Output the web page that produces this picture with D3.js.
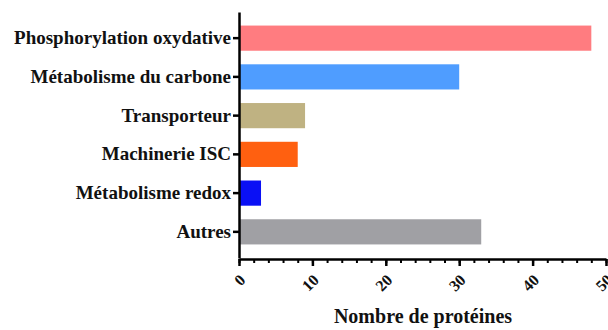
<!DOCTYPE html>
<html>
<head>
<meta charset="utf-8">
<script src="https://cdn.jsdelivr.net/npm/d3@7"></script>
<style>
  body { margin: 0; background: #fff; }
</style>
</head>
<body>
<div id="chart"></div>
<script>
// categories and values
const categories = ["Phosphorylation oxydative", "Métabolisme du carbone", "Transporteur",
    "Machinerie ISC", "Métabolisme redox", "Autres"];
const counts = [48, 30, 9, 8, 3, 33];
const barColors = ["#ff7c80", "#4f9dff", "#bfb282", "#ff6010", "#0a10f5", "#a0a0a4"];
const xTicks = [0, 10, 20, 30, 40, 50];
const xTitle = "Nombre de protéines";

const W = 608, H = 330;
const margin = { top: 12, right: 2, bottom: 72, left: 239 };
const serif = "'Liberation Serif', 'Times New Roman', serif";

const svg = d3.select("#chart")
    .append("svg")
    .attr("width", W)
    .attr("height", H);

const x = d3.scaleLinear()
    .domain([0, 50])
    .range([margin.left, W - margin.right]);

const y = d3.scaleBand()
    .domain(categories)
    .range([margin.top, H - margin.bottom])
    .paddingInner(0.35)
    .paddingOuter(0.35);

// bars
svg.selectAll(".bar")
    .data(categories)
    .join("rect")
    .attr("class", "bar")
    .attr("x", x(0))
    .attr("y", d => y(d))
    .attr("height", y.bandwidth())
    .attr("width", (d, i) => x(counts[i]) - x(0))
    .attr("fill", (d, i) => barColors[i]);

// y axis
const yAxis = svg.append("g")
    .attr("transform", `translate(${x(0)},0)`)
    .call(d3.axisLeft(y).tickSize(6).tickPadding(2).tickSizeOuter(0));
yAxis.select(".domain").attr("stroke", "#000").attr("stroke-width", 2.5);
yAxis.selectAll(".tick line").attr("stroke", "#000").attr("stroke-width", 2.5);
yAxis.selectAll(".tick text")
    .style("font-family", serif)
    .style("font-weight", "bold")
    .style("font-size", "19px")
    .attr("fill", "#111");

const baseY = H - margin.bottom + 1;

// minor ticks on x
svg.append("g")
    .attr("transform", `translate(0,${baseY})`)
    .call(d3.axisBottom(x).tickValues(d3.range(0, 51, 2)).tickSize(4).tickFormat("").tickSizeOuter(0))
    .call(g => g.select(".domain").remove())
    .selectAll(".tick line").attr("stroke", "#000").attr("stroke-width", 2);

// x axis
const xAxis = svg.append("g")
    .attr("transform", `translate(0,${baseY})`)
    .call(d3.axisBottom(x).tickValues(xTicks).tickSize(7).tickSizeOuter(0));
xAxis.select(".domain").attr("stroke", "#000").attr("stroke-width", 2.5);
xAxis.selectAll(".tick line").attr("stroke", "#000").attr("stroke-width", 2.5);
xAxis.selectAll(".tick text")
    .style("font-family", serif)
    .style("font-weight", "bold")
    .style("font-size", "16px")
    .attr("fill", "#111")
    .attr("text-anchor", "end")
    .attr("dy", null)
    .attr("y", null)
    .attr("transform", "translate(7,22) rotate(-45)");

// axis title
svg.append("text")
    .attr("x", 423)
    .attr("y", 323)
    .attr("text-anchor", "middle")
    .style("font-family", serif)
    .style("font-weight", "bold")
    .style("font-size", "20px")
    .attr("fill", "#111")
    .text(xTitle);
</script>
</body>
</html>
